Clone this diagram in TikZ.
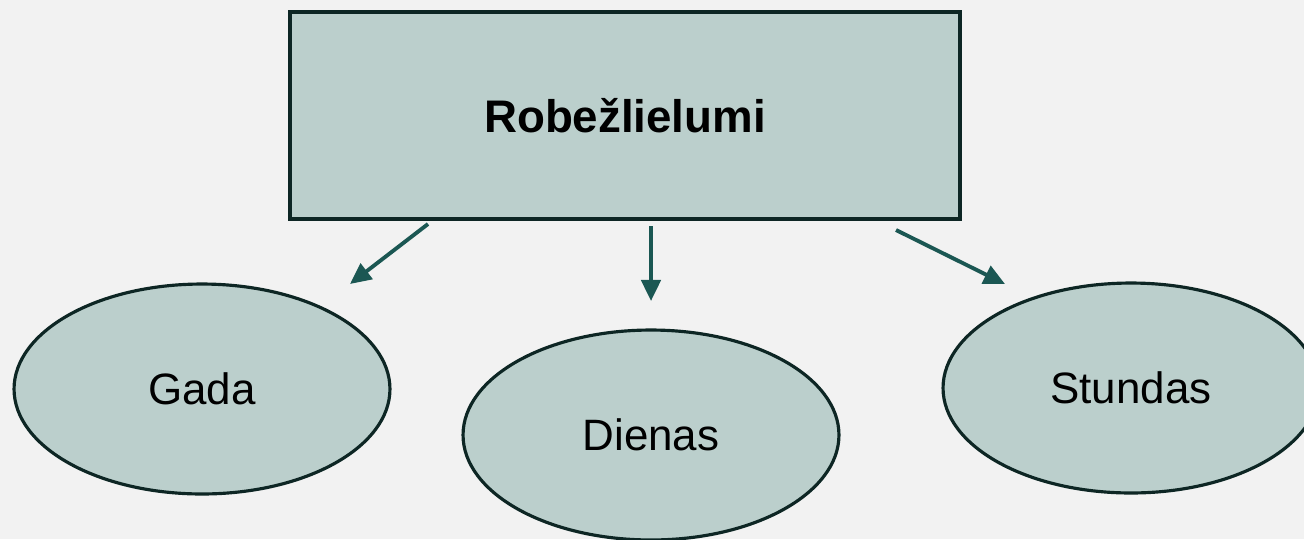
\documentclass[tikz,border=0pt]{standalone}
\usepackage{fontspec}
\setmainfont{Liberation Sans}
\usetikzlibrary{arrows.meta,shapes.geometric,positioning}
\definecolor{bgcol}{HTML}{F2F2F2}
\definecolor{boxfill}{HTML}{BBCFCC}
\definecolor{boxline}{HTML}{0D2624}
\definecolor{arrcol}{HTML}{1B5753}
\tikzset{
  topbox/.style={draw=boxline,fill=boxfill,line width=2.1pt,minimum width=13.4cm,minimum height=4.14cm,inner sep=0pt,font=\fontsize{26}{31}\selectfont\bfseries},
  oval/.style={ellipse,draw=boxline,fill=boxfill,line width=1.8pt,minimum width=7.52cm,minimum height=4.2cm,inner sep=0pt,font=\fontsize{25}{30}\selectfont},
  arr/.style={draw=arrcol,line width=2.2pt,-{Triangle[length=12pt,width=11pt]}}
}
\begin{document}
\begin{tikzpicture}[x=0.02cm,y=-0.02cm]
\fill[bgcol] (0,0) rectangle (1304,539);
\useasboundingbox (0,0) rectangle (1304,539);
\node[topbox] (R) at (625,115.5) {Robežlielumi};
\node[oval] (G) at (202,389) {Gada};
\node[oval] (D) at (651,435) {Dienas};
\node[oval] (S) at (1131,388) {Stundas};
% arrow ends
\coordinate (g1) at (428,224);
\coordinate (g2) at (350,284);
\coordinate (d1) at (651,226);
\coordinate (d2) at (651,301);
\coordinate (s1) at (896,230);
\coordinate (s2) at (1005,284);
\path
(g1) edge[arr] (g2)
(d1) edge[arr] (d2)
(s1) edge[arr] (s2);
\end{tikzpicture}
\end{document}
